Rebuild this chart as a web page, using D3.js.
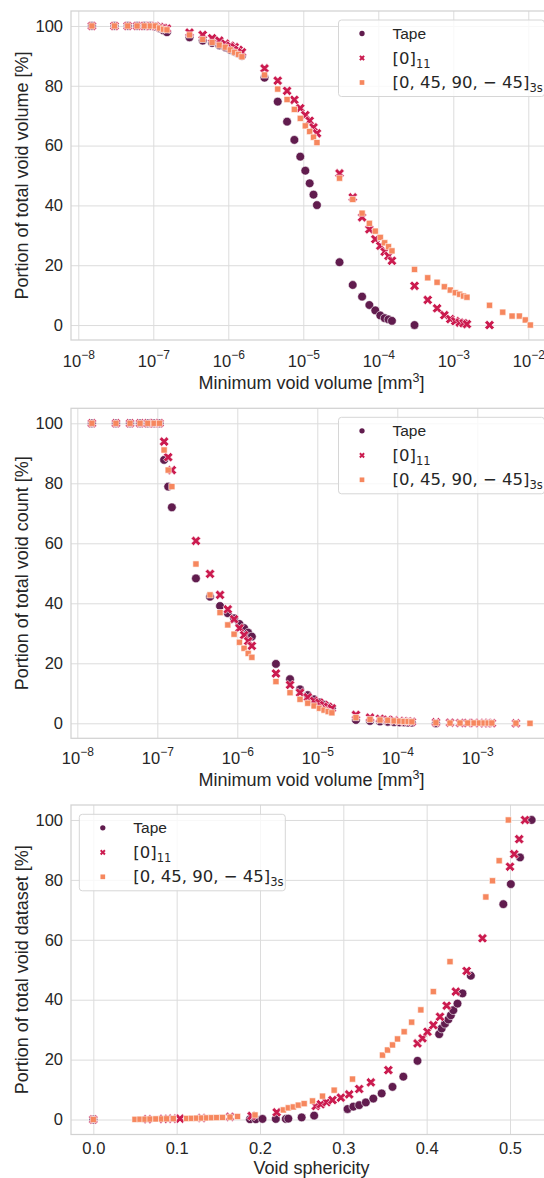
<!DOCTYPE html>
<html lang="en">
<head>
<meta charset="UTF-8"/>
<title>Void distributions</title>
<script src="https://d3js.org/d3.v7.min.js"></script>
<style>
  body { margin: 0; background: #ffffff; }
  svg { display: block; overflow: hidden; }
</style>
</head>
<body>
<script>

// minimum void volume thresholds [mm^3] (panels 1 and 2)
var volThresholds = [
  1.52e-8, 3.04e-8, 4.56e-8, 6.08e-8, 7.6e-8, 9.12e-8, 1.064e-7, 1.216e-7, 1.368e-7, 1.52e-7,
  3.04e-7, 4.56e-7, 6.08e-7, 7.6e-7, 9.12e-7, 1.064e-6, 1.216e-6, 1.368e-6, 1.52e-6,
  3.04e-6, 4.56e-6, 6.08e-6, 7.6e-6, 9.12e-6, 1.064e-5, 1.216e-5, 1.368e-5, 1.52e-5,
  3.04e-5, 4.56e-5, 6.08e-5, 7.6e-5, 9.12e-5, 1.064e-4, 1.216e-4, 1.368e-4, 1.52e-4,
  3.04e-4, 4.56e-4, 6.08e-4, 7.6e-4, 9.12e-4, 1.064e-3, 1.216e-3, 1.368e-3, 1.52e-3,
  3.04e-3, 4.56e-3, 6.08e-3, 7.6e-3, 9.12e-3, 1.064e-2
];

// portion of total void volume [%]
var tapeVolume = [
  100, 100, 100, 100, 100, 100, 99.8, 99.2, 98.5, 97.9,
  96.2, 95.1, 94.3, 93.5, 92.8, 92.0, 91.3, 90.7, 90.0,
  82.7, 74.7, 68.0, 61.9, 56.3, 51.6, 47.4, 43.6, 40.1,
  21.0, 13.4, 9.5, 6.7, 4.9, 3.2, 2.3, 1.9, 1.4,
  0
];
var udVolume = [
  100, 100, 100, 100, 100, 100, 100, 99.6, 99.3, 99.1,
  97.8, 97.0, 95.9, 95.1, 94.1, 93.4, 92.9, 92.0, 91.2,
  85.8, 81.7, 78.3, 75.3, 72.5, 70.2, 68.3, 66.1, 64.1,
  50.7, 42.7, 36.0, 32.0, 28.7, 26.5, 24.5, 23.1, 21.5,
  13.1, 8.4, 5.6, 3.3, 2.0, 1.3, 0.8, 0.6, 0.3,
  0
];
var quasiVolume = [
  100, 100, 100, 100, 100, 100, 100, 99.3, 98.9, 98.7,
  97.0, 95.5, 94.5, 93.6, 92.9, 92.0, 91.2, 90.5, 89.7,
  83.6, 78.9, 75.4, 72.1, 69.1, 66.6, 64.7, 62.8, 61.0,
  49.1, 42.0, 37.4, 34.0, 31.4, 29.3, 27.5, 26.2, 24.8,
  18.6, 15.8, 14.3, 12.8, 11.7, 10.8, 10.3, 9.7, 9.3,
  6.6, 4.3, 3.0, 3.0, 1.7, 0
];

// portion of total void count [%]
var tapeCount = [
  100, 100, 100, 100, 100, 100, 100, 87.8, 78.9, 72.0,
  48.3, 42.2, 39.1, 36.7, 35.0, 33.1, 31.7, 30.2, 28.9,
  19.8, 14.7, 11.3, 9.4, 8.0, 7.0, 6.2, 5.6, 5.0,
  1.1, 0.8, 0.6, 0.5, 0.4, 0.3, 0.3, 0.2, 0.2,
  0
];
var udCount = [
  100, 100, 100, 100, 100, 100, 100, 93.9, 88.7, 84.4,
  60.8, 49.8, 42.8, 38.0, 34.7, 31.7, 29.4, 27.4, 25.8,
  16.6, 12.8, 10.2, 8.7, 7.5, 6.9, 6.1, 5.5, 5.0,
  2.8, 1.9, 1.5, 1.2, 1.0, 0.8, 0.7, 0.6, 0.5,
  0.3, 0.2, 0.1, 0.1, 0.1, 0.05, 0.05, 0.05, 0.03,
  0
];
var quasiCount = [
  100, 100, 100, 100, 100, 100, 100, 91.1, 84.4, 78.9,
  53.1, 42.8, 36.9, 32.8, 29.7, 27.0, 25.0, 23.3, 22.0,
  13.9, 10.2, 8.0, 6.7, 5.8, 5.0, 4.4, 3.9, 3.5,
  1.9, 1.3, 1.1, 1.0, 0.8, 0.7, 0.6, 0.6, 0.5,
  0.2, 0.1, 0.1, 0.1, 0.1, 0.1, 0.1, 0.1, 0.1,
  0.05, 0
];

// void sphericity thresholds and portion of dataset [%] (panel 3)
var tapeSph = [0.0, 0.188, 0.195, 0.203, 0.219, 0.231, 0.234, 0.25, 0.265, 0.305, 0.312, 0.319, 0.327,
  0.336, 0.346, 0.359, 0.372, 0.389, 0.415, 0.418, 0.422, 0.426, 0.429, 0.432, 0.437, 0.443, 0.453,
  0.492, 0.501, 0.512, 0.526];
var tapeSphPct = [0, 0.1, 0.1, 0.2, 0.2, 0.2, 0.3, 0.7, 1.3, 3.5, 4.3, 4.8, 5.7,
  7.0, 8.7, 10.9, 14.3, 19.6, 28.5, 30.4, 32.0, 33.4, 34.8, 36.5, 38.7, 42.1, 48.0,
  71.9, 78.6, 87.5, 100];
var udSph = [0.0, 0.065, 0.084, 0.095, 0.104, 0.13, 0.164, 0.19, 0.22, 0.267, 0.273, 0.28, 0.287,
  0.297, 0.307, 0.319, 0.333, 0.354, 0.389, 0.395, 0.401, 0.408, 0.416, 0.424, 0.435, 0.448,
  0.467, 0.50, 0.505, 0.511, 0.518];
var udSphPct = [0, 0.1, 0.2, 0.3, 0.3, 0.5, 0.9, 1.2, 2.4, 4.5, 5.1, 5.8, 6.5,
  7.3, 8.4, 10.2, 12.4, 16.5, 25.4, 27.1, 29.3, 31.5, 34.3, 38.0, 42.7, 49.6,
  60.5, 84.4, 88.6, 93.6, 100];
var quasiSph = [0.0, 0.05, 0.056, 0.062, 0.068, 0.075, 0.082, 0.088, 0.096, 0.112, 0.118, 0.124, 0.13,
  0.136, 0.142, 0.148, 0.155, 0.164, 0.173, 0.194, 0.228, 0.234, 0.240, 0.246, 0.253, 0.263,
  0.275, 0.289, 0.311, 0.347, 0.353, 0.359, 0.365, 0.373, 0.382, 0.393, 0.408, 0.428,
  0.471, 0.479, 0.487, 0.498];
var quasiSphPct = [0, 0.05, 0.1, 0.1, 0.15, 0.2, 0.2, 0.25, 0.3, 0.35, 0.4, 0.45, 0.5,
  0.55, 0.6, 0.65, 0.7, 0.8, 1.0, 1.5, 3.2, 3.9, 4.2, 4.8, 5.3, 6.2,
  7.8, 9.8, 13.5, 21.5, 23.2, 24.9, 26.9, 29.3, 32.5, 36.6, 42.7, 52.7,
  74.3, 79.7, 86.4, 100];

var yTicks = [0, 20, 40, 60, 80, 100];
var volTicks = [1e-8, 1e-7, 1e-6, 1e-5, 1e-4, 1e-3, 1e-2];
var sphTicks = [0.0, 0.1, 0.2, 0.3, 0.4, 0.5];

var w = 544;
var h = 1178;
var textColor = "#262626";
var gridColor = "#dcdcdc";
var sansFont = "'Liberation Sans', Arial, sans-serif";
var mathFont = "'DejaVu Sans', sans-serif";

var colors = { tape: "#611c4e", ud: "#cb1b4f", quasi: "#f6875e" };

var svg = d3.select("body")
            .append("svg")
            .attr("width", w)
            .attr("height", h);

function zipSeries(xs, ys) {
    return ys.map(function(v, i) { return [xs[i], v]; });
}

function markerPath(kind, big) {
    if (kind === "tape") return d3.symbol().type(d3.symbolCircle).size(big ? 60 : 22)();
    if (kind === "ud") return d3.symbol().type(d3.symbolCross).size(big ? 58 : 20)();
    return d3.symbol().type(d3.symbolSquare).size(big ? 38 : 22)();
}

function drawPanel(p) {
    var g = svg.append("g");

    var xScale = p.log
        ? d3.scaleLog().domain(p.xDomain).range([p.left, p.right])
        : d3.scaleLinear().domain(p.xDomain).range([p.left, p.right]);
    var yScale = d3.scaleLinear().domain([-5, 105]).range([p.bottom, p.top]);

    // grid + x tick labels
    var xAxis = d3.axisBottom(xScale)
                  .tickValues(p.xTicks)
                  .tickSize(-(p.bottom - p.top))
                  .tickFormat(p.log ? function() { return ""; } : d3.format(".1f"));
    var gx = g.append("g")
              .attr("transform", "translate(0," + p.bottom + ")")
              .call(xAxis);
    gx.select(".domain").remove();
    gx.selectAll("line").attr("stroke", gridColor).attr("stroke-width", 1);
    gx.selectAll("text")
      .attr("y", p.xTickY)
      .attr("dy", null)
      .attr("fill", textColor)
      .attr("font-family", sansFont)
      .attr("font-size", 16.5);
    if (p.log) {
        gx.selectAll("text").each(function(d) {
            var t = d3.select(this);
            var e = Math.round(Math.log10(d));
            t.append("tspan").text("10");
            t.append("tspan").attr("dy", -8).attr("font-size", 12).text("\u2212" + Math.abs(e));
        });
    }

    var yAxis = d3.axisLeft(yScale)
                  .tickValues(yTicks)
                  .tickSize(-(p.right - p.left))
                  .tickPadding(8);
    var gy = g.append("g")
              .attr("transform", "translate(" + p.left + ",0)")
              .call(yAxis);
    gy.select(".domain").remove();
    gy.selectAll("line").attr("stroke", gridColor).attr("stroke-width", 1);
    gy.selectAll("text")
      .attr("fill", textColor)
      .attr("font-family", sansFont)
      .attr("font-size", 16.5);

    // frame
    g.append("rect")
     .attr("x", p.left).attr("y", p.top)
     .attr("width", p.right - p.left).attr("height", p.bottom - p.top)
     .attr("fill", "none")
     .attr("stroke", "#d2d2d2")
     .attr("stroke-width", 1.25);

    // points
    p.series.forEach(function(s) {
        g.append("g").selectAll("path")
         .data(s.data)
         .enter()
         .append("path")
         .attr("d", markerPath(s.kind, true))
         .attr("transform", function(d) {
             return "translate(" + xScale(d[0]) + "," + yScale(d[1]) + ")" + (s.kind === "ud" ? " rotate(45)" : "");
         })
         .attr("fill", colors[s.kind])
         .attr("stroke", "#ffffff")
         .attr("stroke-width", 0.6);
    });

    // axis labels
    var xl = g.append("text")
              .attr("x", (p.left + p.right) / 2)
              .attr("y", p.xLabelY)
              .attr("text-anchor", "middle")
              .attr("fill", textColor)
              .attr("font-family", sansFont)
              .attr("font-size", 18);
    if (p.log) {
        xl.append("tspan").text("Minimum void volume [mm");
        xl.append("tspan").attr("dy", -7).attr("font-size", 12.5).text("3");
        xl.append("tspan").attr("dy", 7).text("]");
    } else {
        xl.text(p.xLabel);
    }

    g.append("text")
     .attr("transform", "translate(22," + (p.top + p.bottom) / 2 + ") rotate(-90)")
     .attr("text-anchor", "middle")
     .attr("dominant-baseline", "central")
     .attr("fill", textColor)
     .attr("font-family", sansFont)
     .attr("font-size", 18)
     .text(p.yLabel);

    // legend
    var lg = g.append("g").attr("transform", "translate(" + p.legend[0] + "," + p.legend[1] + ")");
    lg.append("rect")
      .attr("width", 206).attr("height", 76.5)
      .attr("rx", 3)
      .attr("fill", "#ffffff").attr("fill-opacity", 0.8)
      .attr("stroke", "#d6d6d6").attr("stroke-width", 1);
    var rows = [
        { kind: "tape", main: "Tape", sub: "" },
        { kind: "ud", main: "[0]", sub: "11" },
        { kind: "quasi", main: "[0, 45, 90, \u2212 45]", sub: "3s" }
    ];
    rows.forEach(function(r, i) {
        var ry = 13.5 + i * 24.5;
        lg.append("path")
          .attr("d", markerPath(r.kind, false))
          .attr("transform", "translate(23.5," + ry + ")" + (r.kind === "ud" ? " rotate(45)" : ""))
          .attr("fill", colors[r.kind]);
        var t = lg.append("text")
                  .attr("x", 54)
                  .attr("y", ry + 5.5)
                  .attr("fill", textColor)
                  .attr("font-size", r.sub ? 16.5 : 15.5)
                  .attr("font-family", r.sub ? mathFont : sansFont);
        t.append("tspan").text(r.main);
        if (r.sub) {
            t.append("tspan").attr("dy", 4).attr("font-size", 11.5).text(r.sub);
        }
    });
}

drawPanel({
    log: true,
    left: 71, right: 552, top: 11, bottom: 340,
    xDomain: [Math.pow(10, -8.0973), Math.pow(10, -1.684)],
    xTicks: volTicks,
    xTickY: 26.5,
    xLabelY: 389,
    yLabel: "Portion of total void volume [%]",
    legend: [338.5, 20],
    series: [
        { kind: "tape", data: zipSeries(volThresholds, tapeVolume) },
        { kind: "ud", data: zipSeries(volThresholds, udVolume) },
        { kind: "quasi", data: zipSeries(volThresholds, quasiVolume) }
    ]
});

drawPanel({
    log: true,
    left: 71, right: 552, top: 408.3, bottom: 738.3,
    xDomain: [Math.pow(10, -8.079), Math.pow(10, -2.066)],
    xTicks: volTicks.slice(0, 6),
    xTickY: 25.5,
    xLabelY: 786,
    yLabel: "Portion of total void count [%]",
    legend: [338.5, 417.3],
    series: [
        { kind: "tape", data: zipSeries(volThresholds, tapeCount) },
        { kind: "ud", data: zipSeries(volThresholds, udCount) },
        { kind: "quasi", data: zipSeries(volThresholds, quasiCount) }
    ]
});

drawPanel({
    log: false,
    left: 71, right: 552, top: 805, bottom: 1134.5,
    xDomain: [-0.0268, 0.5504],
    xTicks: sphTicks,
    xTickY: 19.5,
    xLabelY: 1174,
    xLabel: "Void sphericity",
    yLabel: "Portion of total void dataset [%]",
    legend: [79.3, 814.3],
    series: [
        { kind: "tape", data: zipSeries(tapeSph, tapeSphPct) },
        { kind: "ud", data: zipSeries(udSph, udSphPct) },
        { kind: "quasi", data: zipSeries(quasiSph, quasiSphPct) }
    ]
});

</script>
</body>
</html>
